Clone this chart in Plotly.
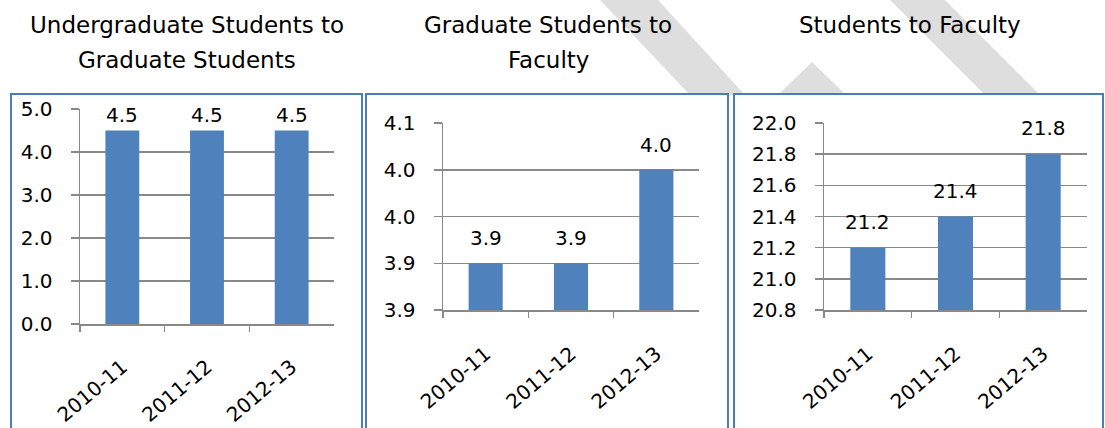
import plotly.graph_objects as go

# ---------------- data ----------------
categories = ["2010-11", "2011-12", "2012-13"]
ug_to_grad = [4.5, 4.5, 4.5]
grad_to_fac = [3.9, 3.9, 4.0]
stud_to_fac = [21.2, 21.4, 21.8]

title1 = ["Undergraduate Students to", "Graduate Students"]
title2 = ["Graduate Students to", "Faculty"]
title3 = ["Students to Faculty"]

p2_tickvals = [3.85, 3.90, 3.95, 4.00, 4.05]
p2_ticktext = ["3.9", "3.9", "4.0", "4.0", "4.1"]

# ---------------- styling ----------------
W, H = 1105, 428
FONT = "'DejaVu Sans', Verdana, sans-serif"
BAR = "#4F81BD"
GRID = "#898989"
FRAME = "#4A7EBB"
WM = "#DEDEDE"
TICK_SIZE = 20
TITLE_SIZE = 23


def px(x):
    return x / W


def py(y):
    return 1 - y / H


fig = go.Figure()
series = [ug_to_grad, grad_to_fac, stud_to_fac]
for i, vals in enumerate(series):
    fig.add_trace(go.Bar(
        x=categories, y=vals, width=0.4, marker=dict(color=BAR, line=dict(width=0)),
        xaxis="x" if i == 0 else f"x{i+1}", yaxis="y" if i == 0 else f"y{i+1}",
        showlegend=False, hoverinfo="x+y",
    ))

xdom = [(80, 334), (443, 699), (824, 1087)]
ydom = [(109, 324), (123, 310), (123, 310)]

common_x = dict(
    type="category", showline=True, linecolor=GRID, linewidth=1.5,
    ticks="outside", tickson="boundaries", ticklen=6, tickcolor=GRID, tickwidth=1.5,
    tickangle=-40, tickfont=dict(family=FONT, size=TICK_SIZE, color="#000"),
    showgrid=False, zeroline=False, fixedrange=True, automargin=False,
)
common_y = dict(
    showline=True, linecolor=GRID, linewidth=1.5, ticks="outside", ticklen=8,
    tickcolor=GRID, tickwidth=1.5, showgrid=True, gridcolor=GRID, gridwidth=1.5,
    zeroline=False, tickfont=dict(family=FONT, size=TICK_SIZE, color="#000"),
    fixedrange=True, automargin=False,
)

layout = dict(
    width=W, height=H, margin=dict(l=0, r=0, t=0, b=0, pad=0, autoexpand=False),
    paper_bgcolor="white", plot_bgcolor="white", bargap=0.6,
    font=dict(family=FONT, size=TICK_SIZE, color="#000"),
)
x_standoff = [22, 23, 23]
for i in range(3):
    sx = "xaxis" if i == 0 else f"xaxis{i+1}"
    sy = "yaxis" if i == 0 else f"yaxis{i+1}"
    yname = "y" if i == 0 else f"y{i+1}"
    xname = "x" if i == 0 else f"x{i+1}"
    layout[sx] = dict(common_x, domain=[px(xdom[i][0]), px(xdom[i][1])], anchor=yname,
                      ticklabelstandoff=x_standoff[i])
    layout[sy] = dict(common_y, domain=[py(ydom[i][1]), py(ydom[i][0])], anchor=xname,
                      ticklabelstandoff=14)

layout["yaxis"].update(range=[0, 5], tick0=0, dtick=1, tickformat=".1f")
layout["yaxis2"].update(range=[3.85, 4.05], tickmode="array",
                        tickvals=p2_tickvals, ticktext=p2_ticktext)
layout["yaxis3"].update(range=[20.8, 22.0], tick0=20.8, dtick=0.2, tickformat=".1f")

fig.update_layout(**layout)

# ---------------- watermark + frames ----------------
shapes = []


def poly(pts):
    d = "M " + " L ".join(f"{px(x):.5f},{py(y):.5f}" for x, y in pts) + " Z"
    return dict(type="path", path=d, xref="paper", yref="paper",
                fillcolor=WM, line=dict(width=0), layer="below")


shapes.append(poly([(600, 0), (658, 0), (745, 95), (690, 95)]))
shapes.append(poly([(778, 95), (812, 62), (846, 95)]))
shapes.append(poly([(890, 0), (945, 0), (1040, 95), (985, 95)]))

frames = [(11, 362), (366, 728), (734, 1103)]
for x0, x1 in frames:
    shapes.append(dict(type="rect", xref="paper", yref="paper",
                       x0=px(x0), x1=px(x1), y0=py(440), y1=py(94),
                       fillcolor="white", line=dict(color=FRAME, width=2),
                       layer="below"))
fig.update_layout(shapes=shapes)

# ---------------- titles ----------------
annotations = []
title_cx = [187, 548, 910]
for cx, lines in zip(title_cx, [title1, title2, title3]):
    for j, line in enumerate(lines):
        annotations.append(dict(
            text=line, xref="paper", yref="paper", x=px(cx), y=py(25 + 35 * j),
            xanchor="center", yanchor="middle", showarrow=False,
            font=dict(family=FONT, size=TITLE_SIZE, color="#000"),
        ))

# ---------------- data labels ----------------
shifts = [2, 11, 12]
for i, vals in enumerate(series):
    xname = "x" if i == 0 else f"x{i+1}"
    yname = "y" if i == 0 else f"y{i+1}"
    for c, v in zip(categories, vals):
        annotations.append(dict(
            text=f"{v:.1f}", xref=xname, yref=yname, x=c, y=v,
            xanchor="center", yanchor="bottom", yshift=shifts[i], showarrow=False,
            font=dict(family=FONT, size=TICK_SIZE, color="#000"),
        ))
fig.update_layout(annotations=annotations)

fig.write_html("out.html", config={"displayModeBar": False, "staticPlot": True},
               post_script="document.body.style.margin='0';document.body.style.overflow='hidden';")
